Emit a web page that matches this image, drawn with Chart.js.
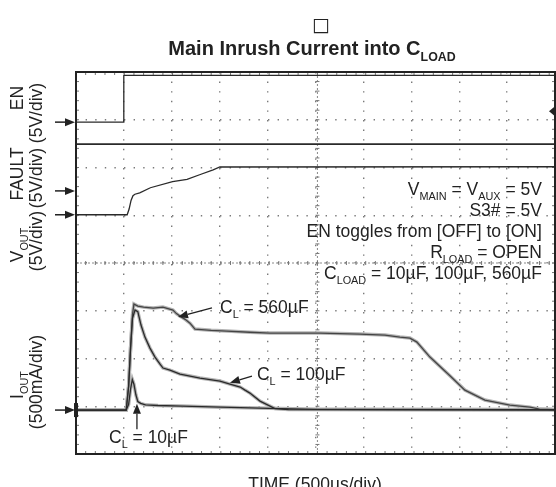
<!DOCTYPE html>
<html>
<head>
<meta charset="utf-8">
<script src="https://cdn.jsdelivr.net/npm/chart.js@4.4.0/dist/chart.umd.min.js"></script>
<style>
  html, body { margin: 0; padding: 0; background: #fff; }
  canvas { display: block; }
</style>
</head>
<body>
<canvas id="scope" width="556" height="487"></canvas>
<script>
// scope capture: time in us (500us/div), voltages in V, currents in mA
var enTime = [0, 490, 495, 4960];
var enVolts = [0, 0, 4.9, 4.9];

var faultTime = [0, 4960];
var faultVolts = [4.9, 4.9];

var voutTime = [0, 530, 550, 570, 590, 610, 660, 770, 1000, 1150, 1280, 1420, 1490, 4960];
var voutVolts = [0, 0, 0.6, 1.5, 2.0, 2.15, 2.3, 2.83, 3.46, 3.7, 4.19, 4.71, 5.0, 5.03];

var i10Time = [0, 520, 545, 565, 583, 600, 620, 640, 670, 720, 850, 1100, 1500, 2000, 2500, 4960];
var i10mA = [0, 0, 60, 220, 320, 270, 160, 90, 70, 55, 48, 42, 30, 18, 8, 5];

var i100Time = [0, 520, 545, 565, 585, 611, 640, 673, 714, 766, 818, 870, 901, 973, 1077, 1284, 1491, 1594, 1700, 1750, 1801, 1905, 1988, 2060, 2200, 4960];
var i100mA = [0, 0, 250, 650, 960, 1047, 1030, 890, 764, 649, 555, 482, 440, 419, 377, 335, 304, 272, 241, 209, 178, 94, 52, 15, 5, 0];

var i560Time = [0, 520, 545, 565, 585, 600, 640, 700, 800, 900, 1004, 1040, 1077, 1130, 1180, 1232, 1400, 1563, 1800, 2008, 2300, 2526, 2940, 3200, 3354, 3458, 3530, 3665, 3872, 4027, 4234, 4493, 4700, 4800, 4959];
var i560mA = [0, 0, 250, 650, 1000, 1110, 1089, 1078, 1068, 1078, 1047, 1010, 984, 950, 910, 848, 835, 827, 815, 806, 806, 806, 796, 785, 764, 754, 712, 555, 360, 209, 105, 52, 31, 10, 5];

// channel reference levels (divisions from bottom) and scale per division
var enRef = 6.95, faultRef = 5.51, voutRef = 5.01, ioutRef = 0.92;
var voltsPerDiv = 5, mAPerDiv = 500;
var trigLevel = 1.15;

function toPoints(times, vals, ref, perDiv) {
  return times.map(function(t, i) { return { x: t, y: ref + vals[i] / perDiv }; });
}

var FONT = '"Liberation Sans", Arial, Helvetica, sans-serif';
var INK = '#222';

// draw text with _{sub} parts
function rich(ctx, text, x, y, align, size, bold) {
  var parts = [];
  var re = /_\{([^}]*)\}/g, last = 0, m;
  while ((m = re.exec(text)) !== null) {
    if (m.index > last) parts.push({ t: text.slice(last, m.index), s: false });
    parts.push({ t: m[1], s: true });
    last = re.lastIndex;
  }
  if (last < text.length) parts.push({ t: text.slice(last), s: false });
  var subSize = size * 0.62;
  var w = 0;
  parts.forEach(function(p) {
    ctx.font = (bold ? 'bold ' : '') + (p.s ? subSize : size) + 'px ' + FONT;
    p.w = ctx.measureText(p.t).width;
    w += p.w;
  });
  var cx = align === 'right' ? x - w : align === 'center' ? x - w / 2 : x;
  ctx.textAlign = 'left';
  ctx.textBaseline = 'alphabetic';
  parts.forEach(function(p) {
    ctx.font = (bold ? 'bold ' : '') + (p.s ? subSize : size) + 'px ' + FONT;
    ctx.fillText(p.t, cx, p.s ? y + size * 0.3 : y);
    cx += p.w;
  });
}

function arrow(ctx, x1, y1, x2, y2, head, half) {
  var a = Math.atan2(y2 - y1, x2 - x1);
  var bx = x2 - head * Math.cos(a), by = y2 - head * Math.sin(a);
  ctx.beginPath();
  ctx.moveTo(x1, y1);
  ctx.lineTo(bx, by);
  ctx.stroke();
  ctx.beginPath();
  ctx.moveTo(x2, y2);
  ctx.lineTo(bx + half * Math.sin(a), by - half * Math.cos(a));
  ctx.lineTo(bx - half * Math.sin(a), by + half * Math.cos(a));
  ctx.closePath();
  ctx.fill();
}

var scopeDecor = {
  id: 'scopeDecor',
  beforeDatasetsDraw: function(chart) {
    var ctx = chart.ctx, a = chart.chartArea;
    var xs = chart.scales.x, ys = chart.scales.y;
    var divX = xs.getPixelForValue(500) - xs.getPixelForValue(0);
    var divY = ys.getPixelForValue(0) - ys.getPixelForValue(1);
    var cx = xs.getPixelForValue(2500), cy = ys.getPixelForValue(4);
    ctx.save();
    ctx.strokeStyle = '#8a8a8a';
    ctx.lineWidth = 1;
    ctx.setLineDash([2, 2]);
    ctx.beginPath();
    ctx.moveTo(cx, a.top); ctx.lineTo(cx, a.bottom);
    ctx.moveTo(a.left, cy); ctx.lineTo(a.right, cy);
    ctx.stroke();
    ctx.setLineDash([]);
    ctx.strokeStyle = '#777';
    ctx.beginPath();
    for (var k = 0; k <= 50; k++) {
      var yy = a.bottom - k * divY / 5;
      if (yy >= a.top) { ctx.moveTo(cx - 2, yy); ctx.lineTo(cx + 2, yy); ctx.moveTo(a.left, yy); ctx.lineTo(a.left + 3, yy); ctx.moveTo(a.right, yy); ctx.lineTo(a.right - 3, yy); }
      var xx = a.left + k * divX / 5;
      if (xx <= a.right) { ctx.moveTo(xx, cy - 2); ctx.lineTo(xx, cy + 2); ctx.moveTo(xx, a.top); ctx.lineTo(xx, a.top + 3); ctx.moveTo(xx, a.bottom); ctx.lineTo(xx, a.bottom - 3); }
    }
    ctx.stroke();
    ctx.restore();
  },
  afterDraw: function(chart) {
    var ctx = chart.ctx, a = chart.chartArea;
    var xs = chart.scales.x, ys = chart.scales.y;
    var px = function(v) { return xs.getPixelForValue(v); };
    var py = function(v) { return ys.getPixelForValue(v); };
    ctx.save();
    // frame
    ctx.strokeStyle = INK;
    ctx.lineWidth = 2;
    ctx.strokeRect(a.left, a.top, a.right - a.left, a.bottom - a.top);

    ctx.fillStyle = INK;
    // title
    ctx.font = '19px "DejaVu Sans", sans-serif';
    ctx.textAlign = 'center';
    ctx.fillText('\u25A1', 321, 31);
    rich(ctx, 'Main Inrush Current into C_{LOAD}', 312, 55, 'center', 20, true);

    // x label
    rich(ctx, 'TIME (500\u00B5s/div)', 315, 490, 'center', 17.5);

    // channel labels on the left
    var vlabel = function(text, x, y) {
      ctx.save();
      ctx.translate(x, y);
      ctx.rotate(-Math.PI / 2);
      rich(ctx, text, 0, 0, 'center', 17.5);
      ctx.restore();
    };
    vlabel('EN', 23, 98);
    vlabel('(5V/div)', 42, 113);
    vlabel('FAULT', 23, 174);
    vlabel('(5V/div)', 42, 178);
    vlabel('V_{OUT}', 23, 245);
    vlabel('(5V/div)', 42, 241);
    vlabel('I_{OUT}', 23, 385);
    vlabel('(500mA/div)', 42, 382);

    // reference arrows
    ctx.strokeStyle = INK;
    ctx.lineWidth = 1.5;
    [enRef, faultRef, voutRef, ioutRef].forEach(function(r) {
      var y = py(r);
      arrow(ctx, 55, y, a.left - 1, y, 10, 4);
    });
    ctx.fillRect(a.left - 2, py(ioutRef) - 7, 4, 14);

    // trigger marker
    var ty = py(enRef + trigLevel / voltsPerDiv);
    ctx.beginPath();
    ctx.moveTo(a.right - 6, ty);
    ctx.lineTo(a.right, ty - 5);
    ctx.lineTo(a.right, ty + 5);
    ctx.closePath();
    ctx.fill();

    // test conditions
    var rx = px(4824);
    rich(ctx, 'V_{MAIN} = V_{AUX} = 5V', rx, py(5.42), 'right', 17.5);
    rich(ctx, 'S3# = 5V', rx, py(4.98), 'right', 17.5);
    rich(ctx, 'EN toggles from [OFF] to [ON]', rx, py(4.54), 'right', 17.5);
    rich(ctx, 'R_{LOAD} = OPEN', rx, py(4.10), 'right', 17.5);
    rich(ctx, 'C_{LOAD} = 10\u00B5F, 100\u00B5F, 560\u00B5F', rx, py(3.66), 'right', 17.5);

    // curve callouts
    ctx.lineWidth = 1.3;
    rich(ctx, 'C_{L} = 560\u00B5F', px(1491), py(2.95), 'left', 17.5);
    arrow(ctx, px(1408), py(3.06), px(1056), py(2.87), 10, 4);
    rich(ctx, 'C_{L} = 100\u00B5F', px(1874), py(1.55), 'left', 17.5);
    arrow(ctx, px(1822), py(1.63), px(1594), py(1.49), 10, 4);
    rich(ctx, 'C_{L} = 10\u00B5F', px(342), py(0.23), 'left', 17.5);
    arrow(ctx, px(631), py(0.52), px(631), py(1.05), 10, 4);
    ctx.restore();
  }
};

var trace = '#2a2a2a', halo = '#b4b4b4';
var datasets = [
  { data: toPoints(enTime, enVolts, enRef, voltsPerDiv), borderColor: trace, order: 1 },
  { data: toPoints(faultTime, faultVolts, faultRef, voltsPerDiv), borderColor: trace, borderWidth: 1.8, order: 1 },
  { data: toPoints(voutTime, voutVolts, voutRef, voltsPerDiv), borderColor: trace, order: 1 },
  { data: toPoints(i10Time, i10mA, ioutRef, mAPerDiv), borderColor: trace, order: 1 },
  { data: toPoints(i100Time, i100mA, ioutRef, mAPerDiv), borderColor: trace, order: 1 },
  { data: toPoints(i560Time, i560mA, ioutRef, mAPerDiv), borderColor: '#444', order: 1 },
  { data: toPoints(i10Time, i10mA, ioutRef, mAPerDiv), borderColor: halo, borderWidth: 3.5, order: 2 },
  { data: toPoints(i100Time, i100mA, ioutRef, mAPerDiv), borderColor: halo, borderWidth: 3.5, order: 2 },
  { data: toPoints(i560Time, i560mA, ioutRef, mAPerDiv), borderColor: halo, borderWidth: 3.5, order: 2 }
];

var dotGrid = { color: '#7a7a7a', lineWidth: 1.4, drawTicks: false };

var chart = new Chart(document.getElementById('scope').getContext('2d'), {
  type: 'line',
  data: { datasets: datasets },
  options: {
    responsive: false,
    animation: false,
    devicePixelRatio: 1,
    layout: { padding: { left: 76, right: 1, top: 72, bottom: 33 } },
    plugins: { legend: { display: false }, tooltip: { enabled: false } },
    elements: {
      point: { radius: 0 },
      line: { tension: 0, borderWidth: 1.3, fill: false }
    },
    scales: {
      x: {
        type: 'linear', min: 0, max: 4960,
        ticks: { display: false, stepSize: 500 },
        grid: dotGrid,
        border: { display: false, dash: [1.4, 8.2] }
      },
      y: {
        type: 'linear', min: 0, max: 8,
        ticks: { display: false, stepSize: 1 },
        grid: dotGrid,
        border: { display: false, dash: [1.4, 8.2] }
      }
    }
  },
  plugins: [scopeDecor]
});
</script>
</body>
</html>
